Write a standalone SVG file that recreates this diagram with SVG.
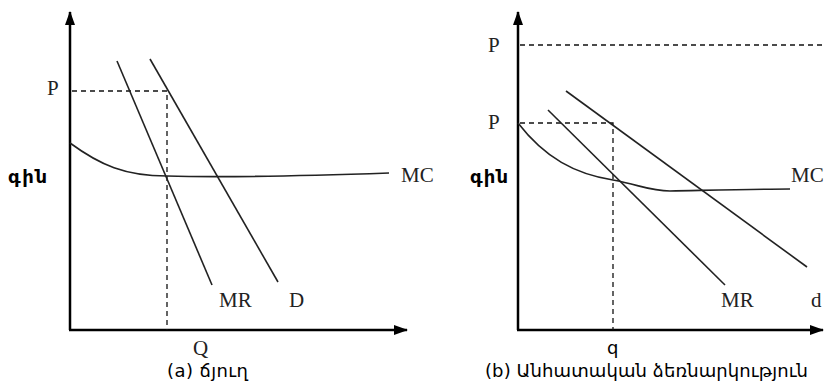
<svg xmlns="http://www.w3.org/2000/svg" width="832" height="385" viewBox="0 0 832 385">
<defs>
<marker id="arr" viewBox="0 0 14 10" refX="13" refY="5" markerWidth="14" markerHeight="10" markerUnits="userSpaceOnUse" orient="auto">
<path d="M0,0 L14,5 L0,10 Z" fill="#000"/>
</marker>
</defs>
<style>
.axis{stroke:#000;stroke-width:2.5;fill:none}
.curve{stroke:#222;stroke-width:1.6;fill:none}
.dash{stroke:#111;stroke-width:1.3;stroke-dasharray:5,4;fill:none}
.lbl{font-family:"Liberation Serif","Times New Roman",serif;font-size:21px;fill:#222}
.arm{font-family:"DejaVu Sans","Noto Sans",sans-serif;font-size:18px;fill:#000}
.armb{font-family:"DejaVu Sans","Noto Sans",sans-serif;font-size:18px;font-weight:bold;fill:#000}
</style>
<rect width="832" height="385" fill="#fff"/>
<g id="panel-a">
<g id="axes-a">
<line class="axis" x1="70" y1="330" x2="70" y2="12" marker-end="url(#arr)"/>
<line class="axis" x1="69" y1="330" x2="407" y2="330" marker-end="url(#arr)"/>
</g>
<g id="connectors-a">
<path class="dash" d="M72,91 H167 V330"/>
<line id="mr-a" class="curve" x1="117" y1="61" x2="212" y2="285"/>
<line id="d-a" class="curve" x1="150" y1="59" x2="278" y2="282"/>
<path id="mc-a" class="curve" d="M70,143 C100,165 125,176 167,176 C230,178 300,176 389,173"/>
</g>
<g id="labels-a">
<text class="lbl" x="47" y="95">P</text>
<text class="armb" x="8" y="183" textLength="39">գին</text>
<text class="lbl" x="401" y="182">MC</text>
<text class="lbl" x="219" y="307">MR</text>
<text class="lbl" x="289" y="307">D</text>
<text class="lbl" x="193" y="355">Q</text>
<text class="arm" x="167" y="377" textLength="81">(a) ճյուղ</text>
</g>
</g>
<g id="panel-b">
<g id="axes-b">
<line class="axis" x1="518" y1="330" x2="518" y2="12" marker-end="url(#arr)"/>
<line class="axis" x1="517" y1="330" x2="823" y2="330" marker-end="url(#arr)"/>
</g>
<g id="connectors-b">
<line class="dash" x1="520" y1="45" x2="822" y2="45"/>
<path class="dash" d="M520,123 H613 V330"/>
<line id="d-b" class="curve" x1="566" y1="91" x2="807" y2="267"/>
<line id="mr-b" class="curve" x1="548" y1="110" x2="725" y2="285"/>
<path id="mc-b" class="curve" d="M518,123 C545,158 575,174 613,180 C640,185 650,191 670,191 C720,190 760,189 790,189"/>
</g>
<g id="labels-b">
<text class="lbl" x="488" y="52">P</text>
<text class="lbl" x="488" y="129">P</text>
<text class="armb" x="470" y="183" textLength="38">գին</text>
<text class="lbl" x="791" y="182">MC</text>
<text class="lbl" x="721" y="307">MR</text>
<text class="lbl" x="811" y="307">d</text>
<text class="arm" x="607" y="354">q</text>
<text class="arm" x="485" y="377" textLength="323">(b) Անհատական ձեռնարկություն</text>
</g>
</g>
</svg>
